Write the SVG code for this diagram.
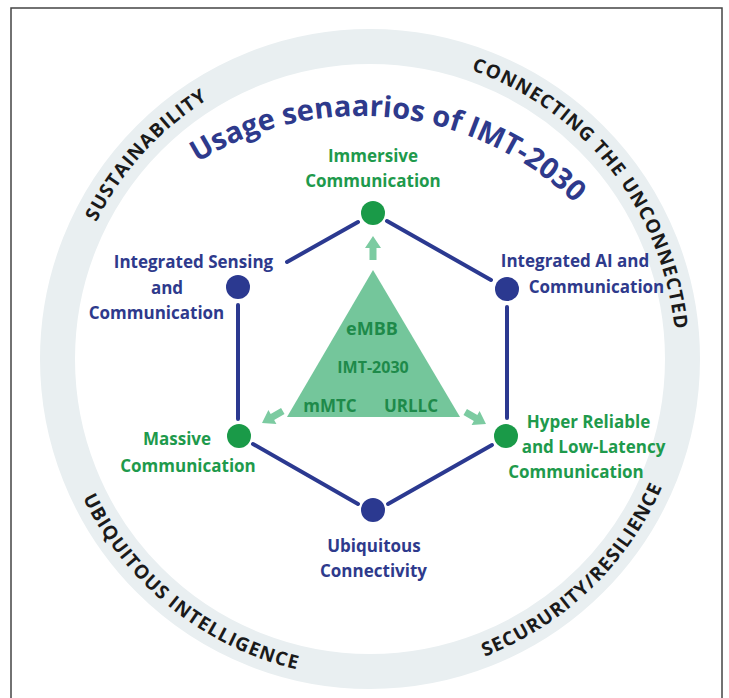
<svg xmlns="http://www.w3.org/2000/svg" xmlns:xlink="http://www.w3.org/1999/xlink" width="729" height="698" viewBox="0 0 729 698">
<style>
  .ringtxt { font-family: "Open Sans", "Liberation Sans", sans-serif; font-weight: 700; font-size: 19px; fill: #1a1a1a; letter-spacing: 1.1px; }
  .title { font-family: "Open Sans", "Liberation Sans", sans-serif; font-weight: 700; font-size: 29px; fill: #2e3a8c; }
  .lbl { font-family: "Open Sans", "Liberation Sans", sans-serif; font-weight: 700; font-size: 17px; text-anchor: middle; }
  .blue { fill: #2e3a8c; }
  .green { fill: #1e9a4c; }
  .core { font-family: "Open Sans", "Liberation Sans", sans-serif; font-weight: 700; fill: #1e8a4a; text-anchor: middle; }
  .edge { stroke: #2b3990; stroke-width: 4; stroke-linecap: round; fill: none; }
  .nb { fill: #2b3990; }
  .ng { fill: #1a9a48; }
  .arr { fill: #7ccba1; }
</style>
<defs>
  <path id="ringTop" d="M 82.5 463.7 A 306 306 0 1 1 657.5 463.7"/>
  <path id="ringBot" d="M 70.2 249.9 A 319 319 0 1 0 669.8 249.9"/>
  <path id="titlePath" d="M 71.5 318 A 307 307 0 0 1 648.5 318"/>
  <path id="arrow" d="M 0 -3.5 L 12 -3.5 L 12 -8 L 24 0 L 12 8 L 12 3.5 L 0 3.5 Z"/>
</defs>
<rect x="0" y="0" width="729" height="698" fill="#ffffff"/>
<rect x="11" y="8" width="711" height="720" fill="none" stroke="#444444" stroke-width="1.5"/>

<g id="ring">
  <circle cx="370" cy="359" r="312.5" fill="none" stroke="#e9eff1" stroke-width="35"/>
  <text class="ringtxt"><textPath xlink:href="#ringTop" href="#ringTop" startOffset="333" text-anchor="middle">SUSTAINABILITY</textPath></text>
  <text class="ringtxt"><textPath xlink:href="#ringTop" href="#ringTop" startOffset="865" text-anchor="middle">CONNECTING THE UNCONNECTED</textPath></text>
  <text class="ringtxt"><textPath xlink:href="#ringBot" href="#ringBot" startOffset="397" text-anchor="middle">UBIQUITOUS INTELLIGENCE</textPath></text>
  <text class="ringtxt"><textPath xlink:href="#ringBot" href="#ringBot" startOffset="856" text-anchor="middle">SECURURITY/RESILIENCE</textPath></text>
</g>

<g id="title">
  <text class="title"><textPath xlink:href="#titlePath" href="#titlePath" startOffset="408" text-anchor="middle">Usage senaarios of IMT-2030</textPath></text>
</g>

<g id="connectors">
  <line class="edge" x1="358" y1="222" x2="287" y2="262"/>
  <line class="edge" x1="387" y1="221" x2="491" y2="280"/>
  <line class="edge" x1="238" y1="305" x2="238" y2="419"/>
  <line class="edge" x1="507" y1="307" x2="507" y2="418"/>
  <line class="edge" x1="253" y1="444" x2="358" y2="504"/>
  <line class="edge" x1="388" y1="504" x2="492" y2="445"/>
</g>

<g id="core">
  <polygon points="373,270 287,417 460,417" fill="#74c69b"/>
  <use href="#arrow" xlink:href="#arrow" class="arr" transform="translate(373,260) rotate(-90)"/>
  <use href="#arrow" xlink:href="#arrow" class="arr" transform="translate(282.8,411) rotate(150)"/>
  <use href="#arrow" xlink:href="#arrow" class="arr" transform="translate(465.2,412) rotate(30)"/>
  <text class="core" x="372" y="335" font-size="18">eMBB</text>
  <text class="core" x="373" y="373" font-size="16">IMT-2030</text>
  <text class="core" x="330" y="412" font-size="17">mMTC</text>
  <text class="core" x="411" y="412" font-size="17">URLLC</text>
</g>

<g id="node-immersive">
  <circle class="ng" cx="373" cy="213" r="12"/>
  <text class="lbl green" x="373" y="161.5" font-size="18.5">Immersive</text>
  <text class="lbl green" x="373" y="187" font-size="18.5">Communication</text>
</g>

<g id="node-sensing">
  <circle class="nb" cx="238" cy="287" r="12"/>
  <text class="lbl blue" x="193.5" y="268">Integrated Sensing</text>
  <text class="lbl blue" x="167" y="293.5">and</text>
  <text class="lbl blue" x="156.5" y="319">Communication</text>
</g>

<g id="node-ai">
  <circle class="nb" cx="507" cy="289" r="12"/>
  <text class="lbl blue" x="575" y="266.5">Integrated AI and</text>
  <text class="lbl blue" x="596.5" y="292.5">Communication</text>
</g>

<g id="node-massive">
  <circle class="ng" cx="239" cy="436" r="12"/>
  <text class="lbl green" x="177" y="445">Massive</text>
  <text class="lbl green" x="188" y="471.5">Communication</text>
</g>

<g id="node-hrllc">
  <circle class="ng" cx="506" cy="436" r="12"/>
  <text class="lbl green" x="588.5" y="428">Hyper Reliable</text>
  <text class="lbl green" x="593.5" y="453">and Low-Latency</text>
  <text class="lbl green" x="576" y="478">Communication</text>
</g>

<g id="node-ubiquitous">
  <circle class="nb" cx="373" cy="510" r="12"/>
  <text class="lbl blue" x="374" y="551.5" font-size="18">Ubiquitous</text>
  <text class="lbl blue" x="373.5" y="577" font-size="18">Connectivity</text>
</g>
</svg>
